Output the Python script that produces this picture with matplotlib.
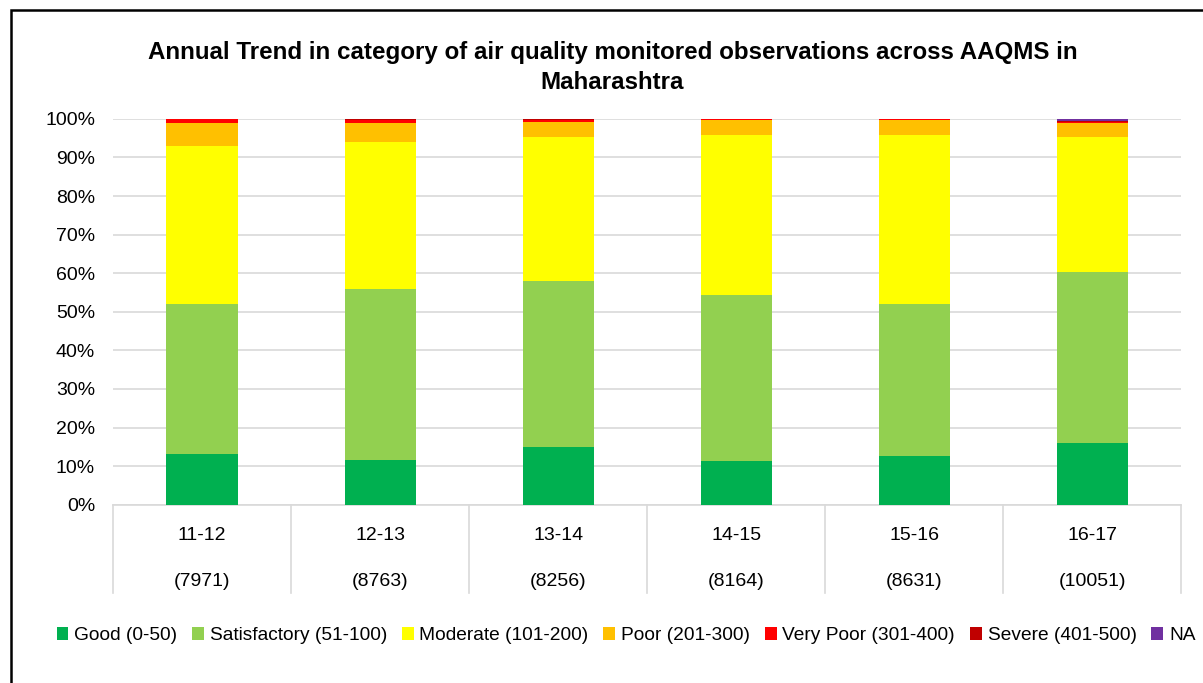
import matplotlib.pyplot as plt
import numpy as np
from matplotlib.patches import Rectangle

plt.rcParams['font.family'] = ['Liberation Sans', 'DejaVu Sans']

# data (percent of observations)
years = ['11-12', '12-13', '13-14', '14-15', '15-16', '16-17']
counts = ['(7971)', '(8763)', '(8256)', '(8164)', '(8631)', '(10051)']
good = [13.2, 11.7, 15.0, 11.4, 12.7, 16.1]
satisfactory = [38.9, 44.3, 43.0, 43.0, 39.4, 44.3]
moderate = [40.9, 38.1, 37.2, 41.5, 43.6, 34.8]
poor = [6.0, 4.9, 3.9, 3.7, 4.0, 3.7]
very_poor = [1.0, 0.8, 0.5, 0.3, 0.2, 0.4]
severe = [0.0, 0.2, 0.4, 0.1, 0.1, 0.2]
na = [0.0, 0.0, 0.0, 0.0, 0.0, 0.5]

series = [
    ('Good (0-50)', good, '#00B050'),
    ('Satisfactory (51-100)', satisfactory, '#92D050'),
    ('Moderate (101-200)', moderate, '#FFFF00'),
    ('Poor (201-300)', poor, '#FFC000'),
    ('Very Poor (301-400)', very_poor, '#FF0000'),
    ('Severe (401-500)', severe, '#C00000'),
    ('NA', na, '#7030A0'),
]

fig = plt.figure(figsize=(12.03, 6.83), dpi=100)
ax = fig.add_axes([0.094, 0.261, 0.888, 0.565])

x = np.arange(len(years))
bottom = np.zeros(len(years))
handles = []
for name, vals, col in series:
    b = ax.bar(x, vals, width=0.4, bottom=bottom, color=col, label=name, zorder=3)
    handles.append(b)
    bottom += np.array(vals)

ax.set_xlim(-0.5, len(years) - 0.5)
ax.set_ylim(0, 100)
ax.set_yticks(np.arange(0, 101, 10))
ax.set_yticklabels([f'{v}%' for v in range(0, 101, 10)], fontsize=14)
ax.yaxis.grid(True, color='#D9D9D9', linewidth=1.2, zorder=0)
ax.tick_params(axis='y', length=0, pad=13)
ax.tick_params(axis='x', length=0)
ax.set_xticks([])
for s in ['left', 'right', 'top']:
    ax.spines[s].set_visible(False)
ax.spines['bottom'].set_color('#D9D9D9')
ax.spines['bottom'].set_linewidth(1.2)

# two-level category labels with separators
trans = ax.get_xaxis_transform()
for i, (yr, c) in enumerate(zip(years, counts)):
    ax.text(i, -0.08, yr, transform=trans, ha='center', va='center', fontsize=14)
    ax.text(i, -0.2, c, transform=trans, ha='center', va='center', fontsize=14)
for i in range(len(years) + 1):
    ax.plot([i - 0.5, i - 0.5], [0, -0.228], transform=trans, color='#D9D9D9',
            linewidth=1.2, clip_on=False)

fig.text(0.509, 0.901, 'Annual Trend in category of air quality monitored observations across AAQMS in\nMaharashtra',
         ha='center', va='center', fontsize=17.4, fontweight='bold', linespacing=1.4)

# legend runs past the right edge, as in the source image
fig.legend(handles=handles, loc='center left', bbox_to_anchor=(0.047, 0.069), ncol=7,
           frameon=False, fontsize=13.8, handlelength=0.62, handleheight=0.62,
           handletextpad=0.3, columnspacing=0.77, borderaxespad=0, borderpad=0)

# chart border (left and top visible)
fig.patches.append(Rectangle((0.009, -0.1), 1.2, 1.085, transform=fig.transFigure,
                             fill=False, edgecolor='black', linewidth=1.8))

fig.savefig('out.png', dpi=100)
